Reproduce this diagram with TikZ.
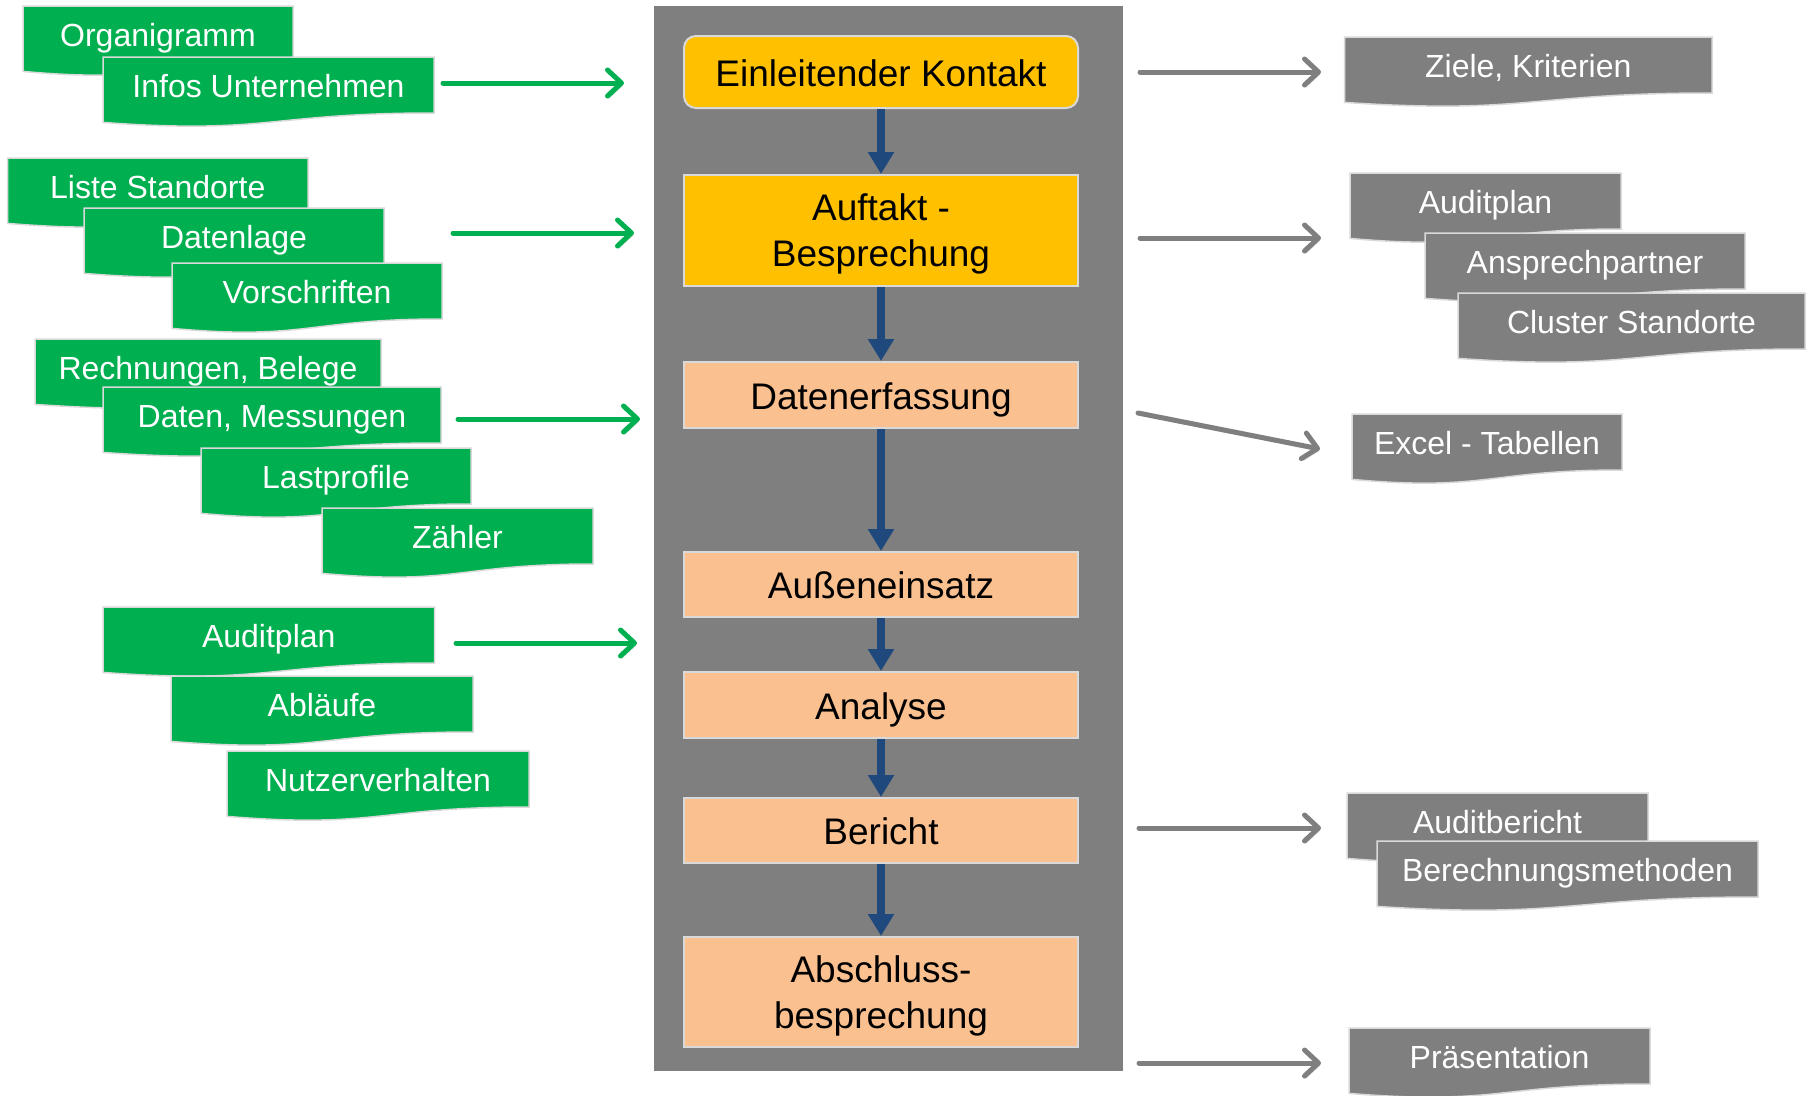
\documentclass[tikz,border=0pt]{standalone}
\usepackage{fontspec}
\setmainfont{Liberation Sans}
\usetikzlibrary{arrows.meta}
\definecolor{docgreen}{HTML}{00B050}
\definecolor{docgray}{HTML}{7F7F7F}
\definecolor{panelgray}{HTML}{7F7F7F}
\definecolor{stagegold}{HTML}{FFC000}
\definecolor{stagepeach}{HTML}{FAC090}
\definecolor{flowblue}{HTML}{1F497D}
\definecolor{lightedge}{HTML}{D9D9D9}
\newcommand\mkdoc[6]{%
  \pgfmathsetmacro\docL{#2}\pgfmathsetmacro\docT{#3}\pgfmathsetmacro\docR{#4}%
  \pgfmathsetmacro\docM{(#2+#4)/2}%
  \pgfmathsetmacro\docY{#3+56}\pgfmathsetmacro\docYc{#3+77.6}\pgfmathsetmacro\docYl{#3+65.4}%
  \pgfmathsetmacro\docB{#3+40.5}%
  \path[docshape, fill=#5] (\docL,\docT) -- (\docR,\docT) -- (\docR,\docY)
     .. controls (\docM,\docY) and (\docM,\docYc) .. (\docL,\docYl) -- cycle;
  \node[doctext] (#1) at (\docM,\docB) {#6};
}
\begin{document}
\begin{tikzpicture}[x=1pt,y=-1pt,
  docshape/.style={draw=lightedge, line width=1.5pt},
  doctext/.style={text=white, font=\fontsize{32}{38}\selectfont, anchor=base, inner sep=0pt},
  stage/.style={draw=lightedge, line width=2pt, minimum width=394pt, text=black,
     font=\fontsize{37}{46}\selectfont, align=center, inner sep=0pt},
  oneline/.style={text height=28.5pt, text depth=0pt},
  flow/.style={draw=flowblue, line width=7.5pt, -{Triangle[length=22pt,width=25pt]}},
  outarrow/.style={line width=5pt, line cap=round, -{Straight Barb[length=14pt,width=26pt,round]},
     preaction={draw=black!14, transform canvas={xshift=1.5pt,yshift=-2.5pt}}},
  greenarrow/.style={outarrow, draw=docgreen},
  grayarrow/.style={outarrow, draw=docgray}
]
\useasboundingbox (0,0) rectangle (1806,1095);
\fill[white] (0,0) rectangle (1806,1095);

% central panel
\fill[panelgray] (654,6) rectangle (1123,1071);

% stages
\node[stage, oneline, fill=stagegold, rounded corners=12pt, minimum height=72pt] (k1) at (881,72) {Einleitender Kontakt};
\node[stage, fill=stagegold, minimum height=111pt, text depth=0pt] (k2) at (881,230.5) {Auftakt -\\Besprechung};
\node[stage, oneline, fill=stagepeach, minimum height=66pt] (k3) at (881,395) {Datenerfassung};
\node[stage, oneline, fill=stagepeach, minimum height=65pt] (k4) at (881,584.5) {Außeneinsatz};
\node[stage, oneline, fill=stagepeach, minimum height=66pt] (k5) at (881,705) {Analyse};
\node[stage, oneline, fill=stagepeach, minimum height=65pt] (k6) at (881,830.5) {Bericht};
\node[stage, fill=stagepeach, minimum height=110pt, text depth=0pt] (k7) at (881,992) {Abschluss-\\besprechung};

\draw[flow] (k1.south) -- (k2.north);
\draw[flow] (k2.south) -- (k3.north);
\draw[flow] (k3.south) -- (k4.north);
\draw[flow] (k4.south) -- (k5.north);
\draw[flow] (k5.south) -- (k6.north);
\draw[flow] (k6.south) -- (k7.north);

% green input documents
\mkdoc{g1}{23}{6}{293}{docgreen}{Organigramm}
\mkdoc{g2}{103}{57}{434}{docgreen}{Infos Unternehmen}
\mkdoc{g3}{7.5}{158}{308}{docgreen}{Liste Standorte}
\mkdoc{g4}{84}{208}{384}{docgreen}{Datenlage}
\mkdoc{g5}{172}{263}{442}{docgreen}{Vorschriften}
\mkdoc{g6}{35}{339}{381}{docgreen}{Rechnungen, Belege}
\mkdoc{g7}{103}{387}{441}{docgreen}{Daten, Messungen}
\mkdoc{g8}{201}{448}{471}{docgreen}{Lastprofile}
\mkdoc{g9}{322}{508}{593}{docgreen}{Zähler}
\mkdoc{g10}{103}{607}{434.5}{docgreen}{Auditplan}
\mkdoc{g11}{171}{676}{473}{docgreen}{Abläufe}
\mkdoc{g12}{227}{751}{529}{docgreen}{Nutzerverhalten}

% gray output documents
\mkdoc{o1}{1344.5}{37}{1712}{docgray}{Ziele, Kriterien}
\mkdoc{o2}{1350}{173}{1621}{docgray}{Auditplan}
\mkdoc{o3}{1425}{233}{1745}{docgray}{Ansprechpartner}
\mkdoc{o4}{1458}{293}{1805}{docgray}{Cluster Standorte}
\mkdoc{o5}{1352}{414}{1622}{docgray}{Excel - Tabellen}
\mkdoc{o6}{1347}{793}{1648}{docgray}{Auditbericht}
\mkdoc{o7}{1377}{841}{1758}{docgray}{Berechnungsmethoden}
\mkdoc{o8}{1349}{1028}{1650}{docgray}{Präsentation}

% arrow end points
\coordinate (ga1s) at (443,83);  \coordinate (ga1e) at (624,83);
\coordinate (ga2s) at (453,233); \coordinate (ga2e) at (634,233);
\coordinate (ga3s) at (458,419); \coordinate (ga3e) at (640,419);
\coordinate (ga4s) at (456,643); \coordinate (ga4e) at (637,643);
\coordinate (ra1s) at (1140,72);   \coordinate (ra1e) at (1321,72);
\coordinate (ra2s) at (1140,238);  \coordinate (ra2e) at (1321,238);
\coordinate (ra3s) at (1138,413);  \coordinate (ra3e) at (1320,449);
\coordinate (ra4s) at (1139,828);  \coordinate (ra4e) at (1321,828);
\coordinate (ra5s) at (1139,1063); \coordinate (ra5e) at (1321,1063);

\draw[greenarrow] (ga1s) -- (ga1e);
\draw[greenarrow] (ga2s) -- (ga2e);
\draw[greenarrow] (ga3s) -- (ga3e);
\draw[greenarrow] (ga4s) -- (ga4e);
\draw[grayarrow] (ra1s) -- (ra1e);
\draw[grayarrow] (ra2s) -- (ra2e);
\draw[grayarrow] (ra3s) -- (ra3e);
\draw[grayarrow] (ra4s) -- (ra4e);
\draw[grayarrow] (ra5s) -- (ra5e);
\end{tikzpicture}
\end{document}
